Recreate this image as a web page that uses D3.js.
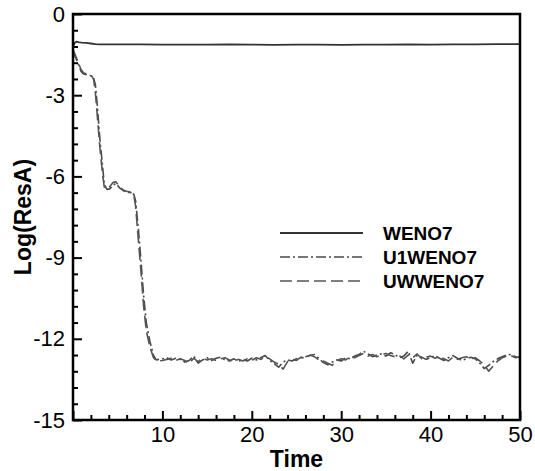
<!DOCTYPE html>
<html>
<head>
<meta charset="utf-8">
<script src="https://cdn.jsdelivr.net/npm/d3@7"></script>
<style>
  html, body { margin: 0; padding: 0; background: #fff; }
  svg { display: block; }
  text { font-family: "Liberation Sans", Arial, Helvetica, sans-serif; }
</style>
</head>
<body>
<svg id="chart" width="535" height="471"></svg>
<script>
// Residual history (log10 of residual) against time for three schemes.

const wenoTime = [0, 0.2, 0.4, 0.7, 1.0, 1.5, 2.0, 2.5, 3.0, 4.0, 5.0, 7.5, 10, 12.5, 15, 17.5, 20, 22.5, 25, 27.5, 30, 32.5, 35, 37.5, 40, 42.5, 45, 47.5, 50];
const wenoVal  = [-1.22, -1.06, -1.02, -1.05, -1.06, -1.07, -1.09, -1.11, -1.12, -1.12, -1.12, -1.12, -1.13, -1.13, -1.13, -1.12, -1.13, -1.14, -1.13, -1.13, -1.14, -1.13, -1.13, -1.12, -1.13, -1.12, -1.12, -1.11, -1.11];

// Shared time samples for the two upwind variants
const resTime = [
  0, 0.3, 0.6, 0.9, 1.2, 1.6, 2.0, 2.3, 2.5, 2.7, 3.0, 3.3, 3.5, 3.8, 4.1, 4.5, 4.8, 5.2, 5.6, 6.0,
  6.4, 6.8, 7.0, 7.3, 7.6, 7.9, 8.2, 8.6, 9.0, 9.3, 9.6,
  10.0, 10.5, 11.0, 11.5, 12.0, 12.5, 13.0, 13.5, 14.0, 14.5, 15.0, 15.5, 16.0, 16.5, 17.0, 17.5, 18.0, 18.5, 19.0, 19.5,
  20.0, 20.5, 21.0, 21.5, 22.0, 22.5, 23.0, 23.5, 24.0, 24.5, 25.0, 25.5, 26.0, 26.5, 27.0, 27.5, 28.0, 28.5, 29.0, 29.5,
  30.0, 30.5, 31.0, 31.5, 32.0, 32.5, 33.0, 33.5, 34.0, 34.5, 35.0, 35.5, 36.0, 36.5, 37.0, 37.5, 38.0, 38.5, 39.0, 39.5,
  40.0, 40.5, 41.0, 41.5, 42.0, 42.5, 43.0, 43.5, 44.0, 44.5, 45.0, 45.5, 46.0, 46.5, 47.0, 47.5, 48.0, 48.5, 49.0, 49.5, 50.0
];

const u1Val = [
  -1.40, -1.62, -1.85, -2.12, -2.22, -2.25, -2.28, -2.36, -2.60, -3.30, -4.60, -5.60, -6.30, -6.48, -6.46, -6.32, -6.26, -6.42, -6.52, -6.58,
  -6.60, -6.66, -6.90, -7.90, -9.10, -10.40, -11.40, -12.10, -12.60, -12.78, -12.76,
  -12.74, -12.70, -12.78, -12.72, -12.76, -12.86, -12.80, -12.64, -12.90, -12.78, -12.70, -12.80, -12.72, -12.68, -12.78, -12.82, -12.74, -12.84, -12.76, -12.82,
  -12.72, -12.78, -12.70, -12.62, -12.80, -12.92, -13.05, -12.86, -12.78, -12.82, -12.74, -12.70, -12.66, -12.62, -12.58, -12.72, -12.88, -12.96, -12.86, -12.78,
  -12.82, -12.70, -12.74, -12.64, -12.58, -12.46, -12.56, -12.66, -12.60, -12.56, -12.64, -12.52, -12.58, -12.70, -12.64, -12.46, -12.90, -12.60, -12.68, -12.76,
  -12.70, -12.62, -12.72, -12.80, -12.70, -12.62, -12.72, -12.80, -12.74, -12.68, -12.74, -12.90, -13.10, -12.98, -12.84, -12.74, -12.66, -12.60, -12.58, -12.66, -12.70
];

const uwVal = [
  -1.30, -1.55, -1.80, -2.05, -2.18, -2.22, -2.25, -2.40, -2.90, -3.70, -4.90, -5.90, -6.40, -6.45, -6.38, -6.22, -6.20, -6.38, -6.50, -6.55,
  -6.58, -6.70, -7.10, -8.30, -9.50, -10.80, -11.70, -12.30, -12.70, -12.80, -12.82,
  -12.80, -12.76, -12.72, -12.80, -12.74, -12.80, -12.90, -12.72, -12.84, -12.72, -12.78, -12.74, -12.80, -12.74, -12.70, -12.78, -12.84, -12.76, -12.82, -12.74,
  -12.80, -12.70, -12.76, -12.68, -12.74, -12.86, -12.94, -13.12, -12.84, -12.76, -12.80, -12.68, -12.72, -12.60, -12.66, -12.78, -12.82, -12.90, -12.98, -12.80,
  -12.74, -12.78, -12.66, -12.70, -12.62, -12.54, -12.64, -12.58, -12.66, -12.60, -12.54, -12.62, -12.66, -12.62, -12.74, -12.60, -12.70, -12.56, -12.74, -12.68,
  -12.64, -12.72, -12.66, -12.74, -12.82, -12.68, -12.76, -12.70, -12.66, -12.76, -12.70, -12.82, -12.96, -13.20, -13.00, -12.82, -12.70, -12.64, -12.62, -12.70, -12.66
];

const seriesNames = ["WENO7", "U1WENO7", "UWWENO7"];
const xMajorTicks = [0, 10, 20, 30, 40, 50];
const xTickLabels = ["", "10", "20", "30", "40", "50"];
const yMajorTicks = [-15, -12, -9, -6, -3, 0];
const yTickLabels = ["-15", "-12", "-9", "-6", "-3", "0"];
const xMinorTicks = [2, 4, 6, 8, 12, 14, 16, 18, 22, 24, 26, 28, 32, 34, 36, 38, 42, 44, 46, 48];
const yMinorTicks = [-14.4, -13.8, -13.2, -12.6, -11.4, -10.8, -10.2, -9.6, -8.4, -7.8, -7.2, -6.6, -5.4, -4.8, -4.2, -3.6, -2.4, -1.8, -1.2, -0.6];

(function () {
  const svg = d3.select("#chart");
  const plot = { left: 73, right: 520, top: 14, bottom: 420 };

  const x = d3.scaleLinear().domain([0, 50]).range([plot.left, plot.right]);
  const y = d3.scaleLinear().domain([-15, 0]).range([plot.bottom, plot.top]);

  // Curves
  const series = [
    { name: seriesNames[0], t: wenoTime, v: wenoVal, color: "#333", width: 1.8, dash: null },
    { name: seriesNames[1], t: resTime,  v: u1Val,   color: "#4a4a4a", width: 1.6, dash: "10,3,2,3" },
    { name: seriesNames[2], t: resTime,  v: uwVal,   color: "#555", width: 1.6, dash: "12,5" }
  ];

  const line = d3.line().x(d => x(d[0])).y(d => y(d[1]));

  series.forEach(s => {
    svg.append("path")
      .datum(s.t.map((t, i) => [t, s.v[i]]))
      .attr("fill", "none")
      .attr("stroke", s.color)
      .attr("stroke-width", s.width)
      .attr("stroke-linejoin", "round")
      .attr("stroke-dasharray", s.dash)
      .attr("d", line);
  });

  // Axes with inward ticks
  const tickFont = 22;

  const xAxis = d3.axisBottom(x)
    .tickValues(xMajorTicks)
    .tickFormat((d, i) => xTickLabels[i])
    .tickSizeInner(-9).tickSizeOuter(0).tickPadding(6);
  const xMinor = d3.axisBottom(x).tickValues(xMinorTicks).tickFormat("")
    .tickSizeInner(-5).tickSizeOuter(0);

  const yAxis = d3.axisLeft(y)
    .tickValues(yMajorTicks)
    .tickFormat((d, i) => yTickLabels[i])
    .tickSizeInner(-9).tickSizeOuter(0).tickPadding(8);
  const yMinor = d3.axisLeft(y).tickValues(yMinorTicks).tickFormat("")
    .tickSizeInner(-5).tickSizeOuter(0);

  function styleAxis(g) {
    g.select(".domain").remove();
    g.selectAll(".tick line").attr("stroke", "#000").attr("stroke-width", 2);
    g.selectAll(".tick text")
      .attr("fill", "#000")
      .style("font-size", tickFont + "px")
      .style("font-family", "'Liberation Sans', Arial, sans-serif");
  }

  svg.append("g").attr("transform", `translate(0,${plot.bottom})`).call(xMinor).call(styleAxis);
  svg.append("g").attr("transform", `translate(0,${plot.bottom})`).call(xAxis).call(styleAxis);
  svg.append("g").attr("transform", `translate(${plot.left},0)`).call(yMinor).call(styleAxis);
  svg.append("g").attr("transform", `translate(${plot.left},0)`).call(yAxis).call(styleAxis);

  // Frame
  svg.append("rect")
    .attr("x", plot.left).attr("y", plot.top)
    .attr("width", plot.right - plot.left).attr("height", plot.bottom - plot.top)
    .attr("fill", "none").attr("stroke", "#000").attr("stroke-width", 2.5);

  // Axis titles
  svg.append("text")
    .attr("x", (plot.left + plot.right) / 2).attr("y", 467)
    .attr("text-anchor", "middle")
    .style("font-size", "23px").style("font-weight", "bold")
    .text("Time");

  svg.append("text")
    .attr("transform", `translate(31,${(plot.top + plot.bottom) / 2}) rotate(-90)`)
    .attr("text-anchor", "middle")
    .style("font-size", "23px").style("font-weight", "bold")
    .text("Log(ResA)");

  // Legend
  const legend = svg.append("g");
  series.forEach((s, i) => {
    const ly = 233 + i * 24;
    legend.append("line")
      .attr("x1", 280).attr("x2", 363)
      .attr("y1", ly).attr("y2", ly)
      .attr("stroke", s.color)
      .attr("stroke-width", s.width)
      .attr("stroke-dasharray", s.dash);
    legend.append("text")
      .attr("x", 383).attr("y", ly + 7)
      .style("font-size", "19px").style("font-weight", "bold")
      .text(s.name);
  });
})();
</script>
</body>
</html>
